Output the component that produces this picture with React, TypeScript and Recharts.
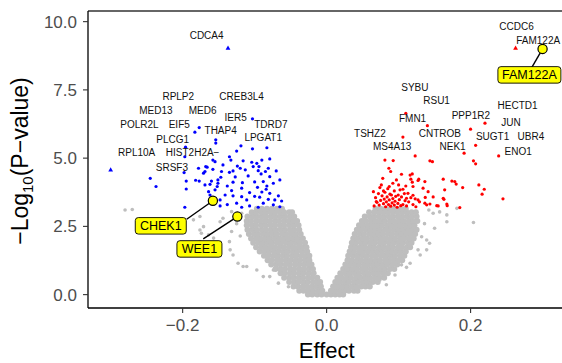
import React from "react";
import { ScatterChart, Scatter, XAxis, YAxis, Customized } from "recharts";

const FONT = "'Liberation Sans', Arial, Helvetica, sans-serif";

// axes
const xTicks = [-0.2, 0, 0.2];
const yTicks = [0, 2.5, 5, 7.5, 10];
const xDomain: [number, number] = [-0.3315, 0.327];
const yDomain: [number, number] = [-0.49, 10.39];

// non-significant genes, dense V core, one row per -log10(p) level: [y, effects]
const greyRows: [number, number[]][] = [
  [0.0, [-0.026, -0.02, -0.013, -0.007, 0.0, 0.006, 0.012, 0.018, 0.023]],
  [0.14, [-0.038, -0.032, -0.025, -0.019, -0.012, -0.006, 0.006, 0.012, 0.019, 0.025, 0.031, 0.038, 0.043]],
  [0.3, [-0.046, -0.04, -0.033, -0.027, -0.02, -0.014, -0.008, 0.009, 0.015, 0.022, 0.028, 0.035, 0.041, 0.048, 0.054, 0.06]],
  [0.46, [-0.052, -0.045, -0.039, -0.032, -0.026, -0.019, -0.013, -0.009, 0.012, 0.018, 0.025, 0.031, 0.038, 0.044, 0.051, 0.057, 0.064, 0.071]],
  [0.62, [-0.059, -0.052, -0.046, -0.039, -0.033, -0.026, -0.02, -0.013, 0.015, 0.021, 0.028, 0.034, 0.041, 0.047, 0.054, 0.06, 0.067, 0.073, 0.08]],
  [0.78, [-0.064, -0.058, -0.051, -0.045, -0.038, -0.032, -0.025, -0.018, 0.019, 0.026, 0.032, 0.039, 0.045, 0.052, 0.058, 0.065, 0.071, 0.078, 0.085]],
  [0.94, [-0.071, -0.064, -0.058, -0.051, -0.045, -0.038, -0.032, -0.025, -0.019, 0.023, 0.029, 0.036, 0.042, 0.049, 0.055, 0.062, 0.068, 0.075, 0.081, 0.088, 0.094]],
  [1.1, [-0.077, -0.07, -0.064, -0.057, -0.051, -0.044, -0.038, -0.031, -0.025, -0.021, 0.026, 0.032, 0.039, 0.045, 0.052, 0.058, 0.065, 0.071, 0.078, 0.084, 0.091, 0.098]],
  [1.26, [-0.082, -0.076, -0.069, -0.063, -0.056, -0.05, -0.043, -0.037, -0.03, -0.024, 0.029, 0.035, 0.042, 0.048, 0.055, 0.061, 0.068, 0.074, 0.081, 0.087, 0.094, 0.1, 0.105]],
  [1.42, [-0.087, -0.081, -0.074, -0.068, -0.061, -0.055, -0.048, -0.042, -0.035, -0.029, -0.024, 0.03, 0.037, 0.043, 0.05, 0.056, 0.063, 0.069, 0.076, 0.082, 0.089, 0.095, 0.102, 0.108]],
  [1.58, [-0.093, -0.086, -0.08, -0.073, -0.067, -0.06, -0.054, -0.047, -0.041, -0.034, -0.027, 0.032, 0.038, 0.045, 0.051, 0.058, 0.064, 0.071, 0.077, 0.084, 0.09, 0.097, 0.103, 0.11]],
  [1.74, [-0.098, -0.091, -0.085, -0.078, -0.072, -0.065, -0.059, -0.052, -0.046, -0.039, -0.033, -0.028, 0.034, 0.04, 0.047, 0.053, 0.06, 0.066, 0.073, 0.079, 0.086, 0.092, 0.099, 0.105, 0.112, 0.116]],
  [1.9, [-0.102, -0.095, -0.089, -0.082, -0.076, -0.069, -0.063, -0.056, -0.05, -0.043, -0.037, -0.03, 0.035, 0.041, 0.048, 0.054, 0.061, 0.067, 0.074, 0.08, 0.087, 0.093, 0.1, 0.106, 0.113, 0.118]],
  [2.06, [-0.105, -0.098, -0.092, -0.085, -0.079, -0.072, -0.066, -0.059, -0.053, -0.046, -0.04, -0.033, 0.037, 0.043, 0.05, 0.056, 0.063, 0.069, 0.076, 0.082, 0.089, 0.095, 0.102, 0.108, 0.115, 0.121]],
  [2.22, [-0.108, -0.101, -0.095, -0.088, -0.082, -0.075, -0.069, -0.062, -0.056, -0.049, -0.043, -0.036, 0.039, 0.046, 0.052, 0.059, 0.065, 0.072, 0.078, 0.085, 0.091, 0.098, 0.104, 0.111, 0.117, 0.123]],
  [2.38, [-0.11, -0.103, -0.097, -0.09, -0.084, -0.077, -0.071, -0.064, -0.058, -0.051, -0.045, -0.038, 0.042, 0.048, 0.055, 0.061, 0.068, 0.074, 0.081, 0.087, 0.094, 0.1, 0.107, 0.113, 0.119, 0.125]],
  [2.54, [-0.111, -0.104, -0.098, -0.091, -0.085, -0.078, -0.072, -0.065, -0.059, -0.052, -0.046, -0.039, 0.045, 0.051, 0.058, 0.064, 0.071, 0.077, 0.084, 0.09, 0.097, 0.103, 0.11, 0.116, 0.122]],
  [2.7, [-0.111, -0.105, -0.098, -0.092, -0.085, -0.079, -0.072, -0.066, -0.059, -0.053, -0.046, -0.041, 0.049, 0.055, 0.062, 0.068, 0.075, 0.081, 0.088, 0.094, 0.101, 0.107, 0.114, 0.12, 0.126]],
  [2.86, [-0.11, -0.103, -0.097, -0.09, -0.084, -0.077, -0.071, -0.064, -0.058, -0.051, -0.045, 0.053, 0.06, 0.066, 0.073, 0.079, 0.086, 0.092, 0.099, 0.105, 0.112, 0.118, 0.125]],
  [3.02, [-0.104, -0.098, -0.091, -0.085, -0.078, -0.072, -0.065, -0.059, -0.052, -0.048, 0.059, 0.066, 0.072, 0.079, 0.085, 0.092, 0.098, 0.105, 0.111, 0.118, 0.124]],
  [3.15, [-0.097, -0.09, -0.083, -0.076, -0.069, -0.062, 0.068, 0.075, 0.082, 0.089, 0.096, 0.103, 0.11]],
];

// scattered non-significant genes outside the core
const greyOutliers: [number, number][] = [
  [-0.134, 1.64], [-0.123, 1.15], [-0.13, 1.45], [-0.111, 1.03], [-0.088, 0.66], [-0.074, 0.9],
  [-0.132, 2.31], [-0.176, 2.37], [-0.171, 2.49], [-0.148, 2.67], [-0.144, 2.8], [-0.132, 3.04],
  [-0.118, 2.98], [-0.135, 1.94], [-0.116, 1.03], [-0.097, 0.9], [-0.079, 0.66], [-0.067, 0.42],
  [-0.053, 0.29], [-0.28, 3.1], [-0.27, 3.12], [-0.176, 2.86], [-0.185, 2.74], [-0.174, 2.25],
  [-0.164, 2.19], [-0.176, 1.94], [-0.157, 2.07], [-0.125, 2.6], [-0.12, 2.15],
  [0.167, 2.67], [0.148, 2.98], [0.15, 2.43], [0.143, 1.88], [0.139, 1.64], [0.13, 1.45],
  [0.116, 1.15], [0.111, 1.0], [0.104, 1.09], [0.083, 0.36], [0.074, 0.54], [0.06, 0.42],
  [0.139, 2.0], [0.127, 1.64], [0.132, 2.12], [0.167, 2.92], [0.204, 2.64], [0.181, 3.16],
  [0.157, 3.03], [0.095, 0.72], [0.088, 1.34], [0.136, 2.6], [0.142, 3.1],
];

// significant, negative effect
const bluePoints: [number, number][] = [
  [-0.177, 6.12], [-0.183, 5.95], [-0.154, 5.67], [-0.154, 5.55], [-0.197, 5.05], [-0.158, 4.93],
  [-0.245, 4.26], [-0.198, 4.47], [-0.178, 4.63], [-0.166, 4.67], [-0.171, 4.45], [-0.182, 4.19],
  [-0.177, 4.16], [-0.195, 4.16], [-0.151, 4.2], [-0.237, 3.96], [-0.195, 3.87], [-0.162, 4.04],
  [-0.152, 3.96], [-0.197, 3.2], [-0.164, 3.77], [-0.162, 3.65], [-0.196, 5.4], [-0.103, 6.44],
  [-0.119, 5.45], [-0.103, 5.34], [-0.083, 5.38], [-0.125, 5.26], [-0.135, 5.05], [-0.133, 4.93],
  [-0.155, 4.87], [-0.116, 4.9], [-0.104, 4.85], [-0.097, 4.81], [-0.09, 4.93], [-0.079, 4.97],
  [-0.168, 4.69], [-0.144, 4.75], [-0.124, 4.71], [-0.102, 4.69], [-0.094, 4.69], [-0.081, 4.63],
  [-0.158, 4.59], [-0.146, 4.51], [-0.135, 4.48], [-0.13, 4.53], [-0.12, 4.63], [-0.095, 4.54],
  [-0.085, 4.51], [-0.07, 4.53], [-0.169, 4.51], [-0.147, 4.3], [-0.091, 4.42], [-0.079, 4.32],
  [-0.065, 4.2], [-0.16, 4.16], [-0.151, 4.08], [-0.13, 4.12], [-0.117, 4.1], [-0.1, 4.13],
  [-0.088, 4.14], [-0.074, 4.08], [-0.169, 4.02], [-0.138, 3.98], [-0.118, 3.9], [-0.096, 3.93],
  [-0.084, 3.86], [-0.155, 3.84], [-0.132, 3.81], [-0.107, 3.74], [-0.079, 3.71], [-0.067, 3.62],
  [-0.13, 3.62], [-0.118, 3.59], [-0.093, 3.57], [-0.081, 3.49], [-0.072, 3.47], [-0.0625, 3.43],
  [-0.148, 3.47], [-0.111, 3.47], [-0.125, 3.35], [-0.088, 3.35], [-0.074, 3.29], [-0.107, 3.25],
  [-0.095, 3.2], [-0.065, 3.22], [-0.148, 3.25], [-0.118, 3.2], [-0.141, 3.65], [-0.09, 3.76],
  [-0.109, 4.35], [-0.127, 4.31], [-0.113, 4.57], [-0.138, 3.3], [-0.1, 3.6], [-0.083, 3.98],
];

// significant, positive effect
const redPoints: [number, number][] = [
  [0.11, 6.64], [0.14, 6.19], [0.106, 5.77], [0.123, 5.08], [0.081, 4.93], [0.0925, 4.91],
  [0.1435, 4.9], [0.147, 4.87], [0.0865, 4.63], [0.089, 4.51], [0.119, 4.42], [0.078, 4.26],
  [0.117, 4.23], [0.119, 4.12], [0.097, 4.2], [0.128, 4.23], [0.162, 4.23], [0.178, 4.14],
  [0.087, 3.96], [0.092, 4.08], [0.074, 3.92], [0.106, 3.86], [0.102, 3.84], [0.12, 3.96],
  [0.134, 3.9], [0.065, 3.77], [0.081, 3.75], [0.09, 3.65], [0.0995, 3.65], [0.113, 3.71],
  [0.164, 3.84], [0.162, 3.53], [0.127, 3.47], [0.109, 3.44], [0.1435, 3.32], [0.167, 3.32],
  [0.22, 6.28], [0.2, 6.06], [0.207, 5.47], [0.191, 5.18], [0.239, 5.08], [0.204, 4.9],
  [0.207, 4.79], [0.174, 4.16], [0.18, 4.05], [0.189, 3.92], [0.2115, 4.02], [0.219, 3.86],
  [0.216, 3.68], [0.245, 3.51], [0.163, 3.49], [0.1675, 3.26], [0.185, 3.19],
  [0.066, 3.25], [0.07, 3.38], [0.068, 3.55], [0.073, 3.28], [0.075, 3.45], [0.077, 3.62],
  [0.079, 3.33], [0.08, 3.5], [0.082, 3.22], [0.083, 3.4], [0.084, 3.58], [0.086, 3.3],
  [0.087, 3.47], [0.088, 3.68], [0.089, 3.24], [0.091, 3.36], [0.092, 3.52], [0.094, 3.28],
  [0.095, 3.42], [0.096, 3.6], [0.098, 3.2], [0.099, 3.34], [0.101, 3.48], [0.103, 3.26],
  [0.104, 3.58], [0.106, 3.3], [0.108, 3.7], [0.111, 3.25], [0.114, 3.4], [0.117, 3.55],
  [0.12, 3.3], [0.124, 3.22], [0.072, 3.7], [0.079, 3.8], [0.085, 3.88], [0.094, 3.8],
  [0.11, 3.98], [0.12, 3.64], [0.129, 3.4], [0.137, 3.56], [0.148, 3.58], [0.153, 3.26],
  [0.1, 4.02], [0.104, 4.41], [0.116, 4.38], [0.127, 4.18], [0.1365, 4.14], [0.076, 4.02],
  [0.141, 3.77], [0.155, 3.25], [0.1365, 3.35], [0.139, 3.29], [0.123, 3.51], [0.111, 3.53],
  [0.069, 3.41],
];

// capped values drawn as triangles
const blueTriangles: [number, number][] = [[-0.137, 9.03], [-0.3, 4.57]];
const redTriangles: [number, number][] = [[0.2625, 9.03], [0.3, 9.0]];

// gene names: [name, x, y] at label centre
const geneLabels: [string, number, number][] = [
  ["CDCA4", -0.1667, 9.51], ["RPLP2", -0.2061, 7.27], ["CREB3L4", -0.1181, 7.25],
  ["MED13", -0.2371, 6.75], ["MED6", -0.1722, 6.75], ["IER5", -0.1264, 6.5],
  ["POLR2L", -0.26, 6.23], ["EIF5", -0.2047, 6.23], ["TDRD7", -0.0774, 6.25],
  ["THAP4", -0.1472, 6.0], ["LPGAT1", -0.0881, 5.75], ["PLCG1", -0.2139, 5.68],
  ["RPL10A", -0.2639, 5.2], ["HIST2H2A\u2212", -0.1861, 5.2], ["SRSF3", -0.2149, 4.64],
  ["CCDC6", 0.2639, 9.84], ["FAM122A", 0.2939, 9.3], ["SYBU", 0.1226, 7.6],
  ["RSU1", 0.1528, 7.11], ["HECTD1", 0.2653, 6.92], ["PPP1R2", 0.2004, 6.56],
  ["FMN1", 0.1194, 6.44], ["JUN", 0.256, 6.32], ["TSHZ2", 0.0601, 5.91],
  ["CNTROB", 0.1574, 5.91], ["SUGT1", 0.2306, 5.79], ["UBR4", 0.2838, 5.79],
  ["MS4A13", 0.0911, 5.42], ["NEK1", 0.175, 5.42], ["ENO1", 0.2661, 5.24],
];

// highlighted genes: point, label box centre, where the connector meets the box
const highlightNames = ["FAM122A", "CHEK1", "WEE1"];
const highlightPoints: [number, number][] = [[0.3, 9.0], [-0.158, 3.44], [-0.124, 2.86]];
const highlightBoxes: [number, number][] = [[0.2817, 8.05], [-0.2304, 2.52], [-0.1767, 1.674]];
const connectorEnds: [number, number][] = [[0.2847, 8.31], [-0.1944, 2.76], [-0.1714, 2.04]];

const toXY = (arr: [number, number][]) => arr.map(([x, y]) => ({ x, y }));
const greyCore = greyRows.flatMap(([y, xs]) => xs.map((x) => ({ x, y })));

const fmt = (v: number) => v.toFixed(1).replace("-", "\u2212");

const dot = (r: number, fill: string) => (p: any) =>
  <circle cx={p.cx} cy={p.cy} r={r} fill={fill} />;

const tri = (fill: string) => (p: any) => (
  <polygon
    points={`${p.cx},${p.cy - 2.6} ${p.cx - 2.4},${p.cy + 1.6} ${p.cx + 2.4},${p.cy + 1.6}`}
    fill={fill}
  />
);

const geneText = (p: any) => (
  <text
    x={p.cx}
    y={p.cy}
    textAnchor="middle"
    dominantBaseline="central"
    fontSize={10}
    fontFamily={FONT}
    fill="#111"
  >
    {p.payload.name}
  </text>
);

const boxLabel = (p: any) => {
  const name: string = p.payload.name;
  const w = name.length * 6 + 21;
  const h = 16.5;
  return (
    <g>
      <rect x={p.cx - w / 2} y={p.cy - h / 2} width={w} height={h} rx={3} fill="#FFFF00" stroke="#000" strokeWidth={0.9} />
      <text x={p.cx} y={p.cy} textAnchor="middle" dominantBaseline="central" fontSize={12.5} fontFamily={FONT} fill="#000">
        {name}
      </text>
    </g>
  );
};

const nothing = () => <g />;

export default function App() {
  return (
    <div style={{ position: "absolute", left: 0, top: 0 }}>
      <ScatterChart width={562} height={363} margin={{ top: 11, right: 0, bottom: 0, left: 0 }}>
        <XAxis
          type="number"
          dataKey="x"
          domain={xDomain}
          ticks={xTicks}
          allowDataOverflow
          height={55}
          tickSize={5}
          tickMargin={6}
          tickFormatter={fmt}
          axisLine={{ stroke: "#000", strokeWidth: 1.3 }}
          tickLine={{ stroke: "#333", strokeWidth: 1.1 }}
          tick={{ fontSize: 17, fill: "#4D4D4D", fontFamily: FONT }}
        />
        <YAxis
          type="number"
          dataKey="y"
          domain={yDomain}
          ticks={yTicks}
          allowDataOverflow
          width={88}
          tickSize={5}
          tickMargin={6}
          tickFormatter={fmt}
          axisLine={{ stroke: "#000", strokeWidth: 1.3 }}
          tickLine={{ stroke: "#333", strokeWidth: 1.1 }}
          tick={{ fontSize: 17, fill: "#4D4D4D", fontFamily: FONT }}
        />
        <Scatter data={greyCore} shape={dot(3.0, "#BEBEBE")} isAnimationActive={false} />
        <Scatter data={toXY(greyOutliers)} shape={dot(1.8, "#BEBEBE")} isAnimationActive={false} />
        <Scatter data={toXY(bluePoints)} shape={dot(1.6, "#0000FF")} isAnimationActive={false} />
        <Scatter data={toXY(redPoints)} shape={dot(1.6, "#FF0000")} isAnimationActive={false} />
        <Scatter data={toXY(blueTriangles)} shape={tri("#0000FF")} isAnimationActive={false} />
        <Scatter data={toXY(redTriangles)} shape={tri("#FF0000")} isAnimationActive={false} />
        <Scatter
          data={geneLabels.map(([name, x, y]) => ({ name, x, y }))}
          shape={geneText}
          isAnimationActive={false}
        />
        {highlightNames.map((name, i) => (
          <Scatter
            key={`conn-${name}`}
            data={[
              { x: highlightPoints[i][0], y: highlightPoints[i][1] },
              { x: connectorEnds[i][0], y: connectorEnds[i][1] },
            ]}
            line={{ stroke: "#000", strokeWidth: 1.4 }}
            shape={nothing}
            isAnimationActive={false}
          />
        ))}
        <Scatter
          data={highlightPoints.map(([x, y], i) => ({ name: highlightNames[i], x, y }))}
          shape={(p: any) => <circle cx={p.cx} cy={p.cy} r={4.6} fill="#FFFF00" stroke="#000" strokeWidth={1.2} />}
          isAnimationActive={false}
        />
        <Scatter
          data={highlightBoxes.map(([x, y], i) => ({ name: highlightNames[i], x, y }))}
          shape={boxLabel}
          isAnimationActive={false}
        />
        <Customized
          component={() => (
            <g fontFamily={FONT}>
              <line x1={88} y1={11} x2={562} y2={11} stroke="#333" strokeWidth={1.3} />
              <text x={326.7} y={357.5} textAnchor="middle" fontSize={22} fill="#000">
                Effect
              </text>
              <text transform="translate(27.5,161) rotate(-90)" textAnchor="middle" fontSize={23} fill="#000">
                {"\u2212Log"}
                <tspan fontSize={15} dy={5}>10</tspan>
                <tspan dy={-5}>(P{"\u2212"}value)</tspan>
              </text>
            </g>
          )}
        />
      </ScatterChart>
    </div>
  );
}
